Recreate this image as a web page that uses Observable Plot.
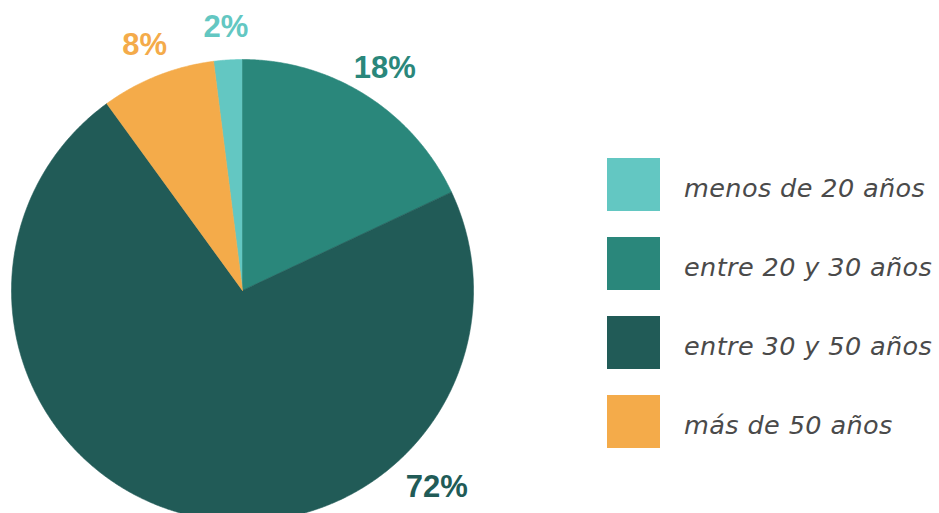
<!DOCTYPE html>
<html>
<head>
<meta charset="utf-8">
<script src="https://cdn.jsdelivr.net/npm/d3@7"></script>
<script src="https://cdn.jsdelivr.net/npm/@observablehq/plot@0.6"></script>
<style>
  html, body { margin: 0; padding: 0; background: #fff; }
  #wrap { position: relative; width: 939px; height: 513px; overflow: hidden; }
  #legend { position: absolute; left: 607px; top: 158px; font-family: "DejaVu Sans", sans-serif; }
  .item { display: flex; align-items: center; height: 53px; margin-bottom: 26px; }
  .sw { width: 53px; height: 53px; flex: none; }
  .lab { margin-left: 24px; font-size: 25.5px; letter-spacing: 0.4px; font-style: italic; font-weight: 300; color: #4a4a4a; white-space: nowrap; position: relative; top: 3px; }
</style>
</head>
<body>
<div id="wrap"></div>
<script>
const categories = ["menos de 20 años", "entre 20 y 30 años", "entre 30 y 50 años", "más de 50 años"];
const values = [2, 18, 72, 8];
const labels = ["2%", "18%", "72%", "8%"];
const colors = ["#63c7c2", "#2a877b", "#215b57", "#f4ab4a"];

const total = d3.sum(values);
const start = -values[0] / total * 2 * Math.PI;
const arcs = d3.pie().sort(null).value(d => d.v).startAngle(start).endAngle(start + 2 * Math.PI)(
  categories.map((c, i) => ({c, v: values[i], l: labels[i]}))
);

const poly = [];
for (const a of arcs) {
  poly.push({c: a.data.c, x: 0, y: 0});
  const n = Math.max(2, Math.ceil((a.endAngle - a.startAngle) / 0.005));
  for (let k = 0; k <= n; k++) {
    const t = a.startAngle + (a.endAngle - a.startAngle) * k / n;
    poly.push({c: a.data.c, x: Math.sin(t), y: Math.cos(t)});
  }
  poly.push({c: a.data.c, x: 0, y: 0});
}

const lab = arcs.map(a => {
  const big = a.data.v / total > 0.5;
  const t = big ? 3 * Math.PI / 4 : (a.startAngle + a.endAngle) / 2;
  const r = big ? 1.19 : 1.15;
  return {c: a.data.c, l: a.data.l, x: r * Math.sin(t), y: r * Math.cos(t)};
});

const chart = Plot.plot({
  width: 939,
  height: 513,
  margin: 0,
  x: {domain: [-1, 1], range: [11, 473], axis: null},
  y: {domain: [-1, 1], range: [521, 59], axis: null},
  color: {domain: categories, range: colors},
  style: {fontFamily: "Liberation Sans, Arial, sans-serif", background: "white"},
  marks: [
    Plot.line(poly, {x: "x", y: "y", z: "c", fill: "c", stroke: "c", strokeWidth: 0.6, curve: "linear"}),
    Plot.text(lab, {x: "x", y: "y", text: "l", fill: "c", fontSize: 31, fontWeight: "bold", dy: 2})
  ]
});

const wrap = document.getElementById("wrap");
wrap.appendChild(chart);

const legend = document.createElement("div");
legend.id = "legend";
categories.forEach((c, i) => {
  const it = document.createElement("div");
  it.className = "item";
  const sw = document.createElement("div");
  sw.className = "sw";
  sw.style.background = colors[i];
  const t = document.createElement("span");
  t.className = "lab";
  t.textContent = c;
  it.appendChild(sw);
  it.appendChild(t);
  legend.appendChild(it);
});
wrap.appendChild(legend);
</script>
</body>
</html>
